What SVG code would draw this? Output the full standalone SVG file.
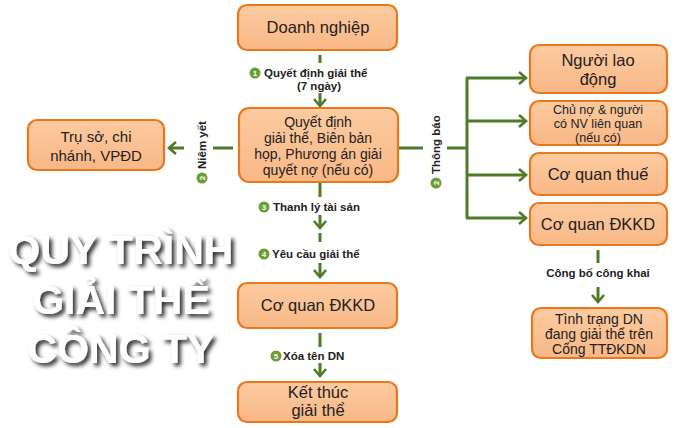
<svg xmlns="http://www.w3.org/2000/svg" width="700" height="428" viewBox="0 0 700 428">
<defs>
<linearGradient id="bf" x1="0" y1="0" x2="0" y2="1">
<stop offset="0" stop-color="#FCCBA0"/>
<stop offset="1" stop-color="#F9B786"/>
</linearGradient>
<marker id="ah" viewBox="-8 -7 10 14" markerWidth="10" markerHeight="14" refX="0" refY="0" orient="auto" markerUnits="userSpaceOnUse">
<path d="M-7,-6 L0,0 L-7,6" fill="none" stroke="#4F7A28" stroke-width="2.6"/>
</marker>
<filter id="sh" x="-10%" y="-20%" width="130%" height="150%">
<feDropShadow dx="3" dy="3" stdDeviation="2" flood-color="#000" flood-opacity="0.85"/>
</filter>
<style>
.box{fill:url(#bf);stroke:#E8781E;stroke-width:2.2}
.bt{font-family:"Liberation Sans",Arial,sans-serif;font-size:16.5px;fill:#222;text-anchor:middle}
.st{font-size:14px}
.ln{fill:none;stroke:#4F7A28;stroke-width:3}
.lb{font-family:"Liberation Sans",Arial,sans-serif;font-size:11.5px;font-weight:bold;fill:#222}
.cn{fill:#6E9C37}
.cnt{font-family:"Liberation Sans",Arial,sans-serif;font-size:8px;font-weight:bold;fill:#fff;text-anchor:middle}
.title{font-family:"Liberation Sans",Arial,sans-serif;font-size:41px;font-weight:bold;fill:#fff;text-anchor:middle}
</style>
</defs>
<rect width="700" height="428" fill="#fff"/>

<g id="title" filter="url(#sh)">
<text class="title" x="121" y="264">QUY TRÌNH</text>
<text class="title" x="121" y="314">GIẢI THỂ</text>
<text class="title" x="121" y="363">CÔNG TY</text>
</g>

<g id="connectors">
<path class="ln" d="M320,55 V63"/>
<path class="ln" d="M320,93 V106" marker-end="url(#ah)"/>
<path class="ln" d="M233,148 H213"/>
<path class="ln" d="M184,148 H169" marker-end="url(#ah)"/>
<path class="ln" d="M398,148 H423"/>
<path class="ln" d="M447,148 H467"/>
<path class="ln" d="M467,78 V218"/>
<path class="ln" d="M466,78 H526" marker-end="url(#ah)"/>
<path class="ln" d="M466,121 H526" marker-end="url(#ah)"/>
<path class="ln" d="M466,175 H526" marker-end="url(#ah)"/>
<path class="ln" d="M466,218 H526" marker-end="url(#ah)"/>
<path class="ln" d="M320,182 V197"/>
<path class="ln" d="M320,215 V228" marker-end="url(#ah)"/>
<path class="ln" d="M320,233 V242"/>
<path class="ln" d="M320,263 V277" marker-end="url(#ah)"/>
<path class="ln" d="M320,333 V347"/>
<path class="ln" d="M320,363 V376" marker-end="url(#ah)"/>
<path class="ln" d="M598,250 V263"/>
<path class="ln" d="M598,287 V302" marker-end="url(#ah)"/>

<g id="lbl1">
<circle class="cn" cx="255" cy="73" r="5.5"/><text class="cnt" x="255" y="76">1</text>
<text class="lb" x="264" y="77">Quyết định giải thể</text>
<text class="lb" x="319" y="90" text-anchor="middle">(7 ngày)</text>
</g>
<g id="lbl2a" transform="translate(202,178) rotate(-90)">
<circle class="cn" cx="0" cy="0" r="5.5"/><text class="cnt" x="0" y="3">2</text>
<text class="lb" x="9" y="4">Niêm yết</text>
</g>
<g id="lbl2b" transform="translate(436,183) rotate(-90)">
<circle class="cn" cx="0" cy="0" r="5.5"/><text class="cnt" x="0" y="3">2</text>
<text class="lb" x="9" y="4">Thông báo</text>
</g>
<g id="lbl3">
<circle class="cn" cx="264" cy="207" r="5.5"/><text class="cnt" x="264" y="210">3</text>
<text class="lb" x="273" y="211">Thanh lý tài sản</text>
</g>
<g id="lbl4">
<circle class="cn" cx="264" cy="254" r="5.5"/><text class="cnt" x="264" y="257">4</text>
<text class="lb" x="272" y="258">Yêu cầu giải thể</text>
</g>
<g id="lbl5">
<circle class="cn" cx="276" cy="356" r="5.5"/><text class="cnt" x="276" y="359">5</text>
<text class="lb" x="283" y="360">Xóa tên DN</text>
</g>
<text class="lb" x="598" y="277" text-anchor="middle">Công bố công khai</text>
</g>

<g id="n-doanhnghiep">
<rect class="box" x="238" y="5" width="159" height="45" rx="9"/>
<text class="bt" x="318" y="33">Doanh nghiệp</text>
</g>
<g id="n-quyetdinh">
<rect class="box" x="239" y="108" width="159" height="74" rx="10"/>
<text class="bt st" x="318" y="127">Quyết định</text>
<text class="bt st" x="318" y="143">giải thể, Biên bản</text>
<text class="bt st" x="318" y="159">họp, Phương án giải</text>
<text class="bt st" x="318" y="175">quyết nợ (nếu có)</text>
</g>
<g id="n-truso">
<rect class="box" x="28" y="120" width="136" height="50" rx="9"/>
<text class="bt" x="96" y="142" style="font-size:15px">Trụ sở, chi</text>
<text class="bt" x="96" y="161" style="font-size:15px">nhánh, VPĐD</text>
</g>
<g id="n-nld">
<rect class="box" x="530" y="45" width="137" height="48" rx="9"/>
<text class="bt" x="598" y="66">Người lao</text>
<text class="bt" x="598" y="85">động</text>
</g>
<g id="n-chuno">
<rect class="box" x="530" y="101" width="137" height="44" rx="9"/>
<text class="bt" x="598" y="113.5" style="font-size:12.5px">Chủ nợ &amp; người</text>
<text class="bt" x="598" y="127.5" style="font-size:12.5px">có NV liên quan</text>
<text class="bt" x="598" y="141.5" style="font-size:12.5px">(nếu có)</text>
</g>
<g id="n-thue">
<rect class="box" x="530" y="153" width="137" height="42" rx="9"/>
<text class="bt" x="598" y="180">Cơ quan thuế</text>
</g>
<g id="n-dkkd-r">
<rect class="box" x="530" y="203" width="137" height="42" rx="9"/>
<text class="bt" x="598" y="230">Cơ quan ĐKKD</text>
</g>
<g id="n-tinhtrang">
<rect class="box" x="532" y="308" width="135" height="50" rx="9"/>
<text class="bt st" x="599" y="324">Tình trạng DN</text>
<text class="bt st" x="599" y="339">đang giải thể trên</text>
<text class="bt st" x="599" y="354">Cổng TTĐKDN</text>
</g>
<g id="n-dkkd">
<rect class="box" x="238" y="283" width="159" height="45" rx="9"/>
<text class="bt" x="318" y="311">Cơ quan ĐKKD</text>
</g>
<g id="n-ketthuc">
<rect class="box" x="238" y="382" width="159" height="40" rx="9"/>
<text class="bt" x="318" y="398">Kết thúc</text>
<text class="bt" x="318" y="416">giải thể</text>
</g>
</svg>
